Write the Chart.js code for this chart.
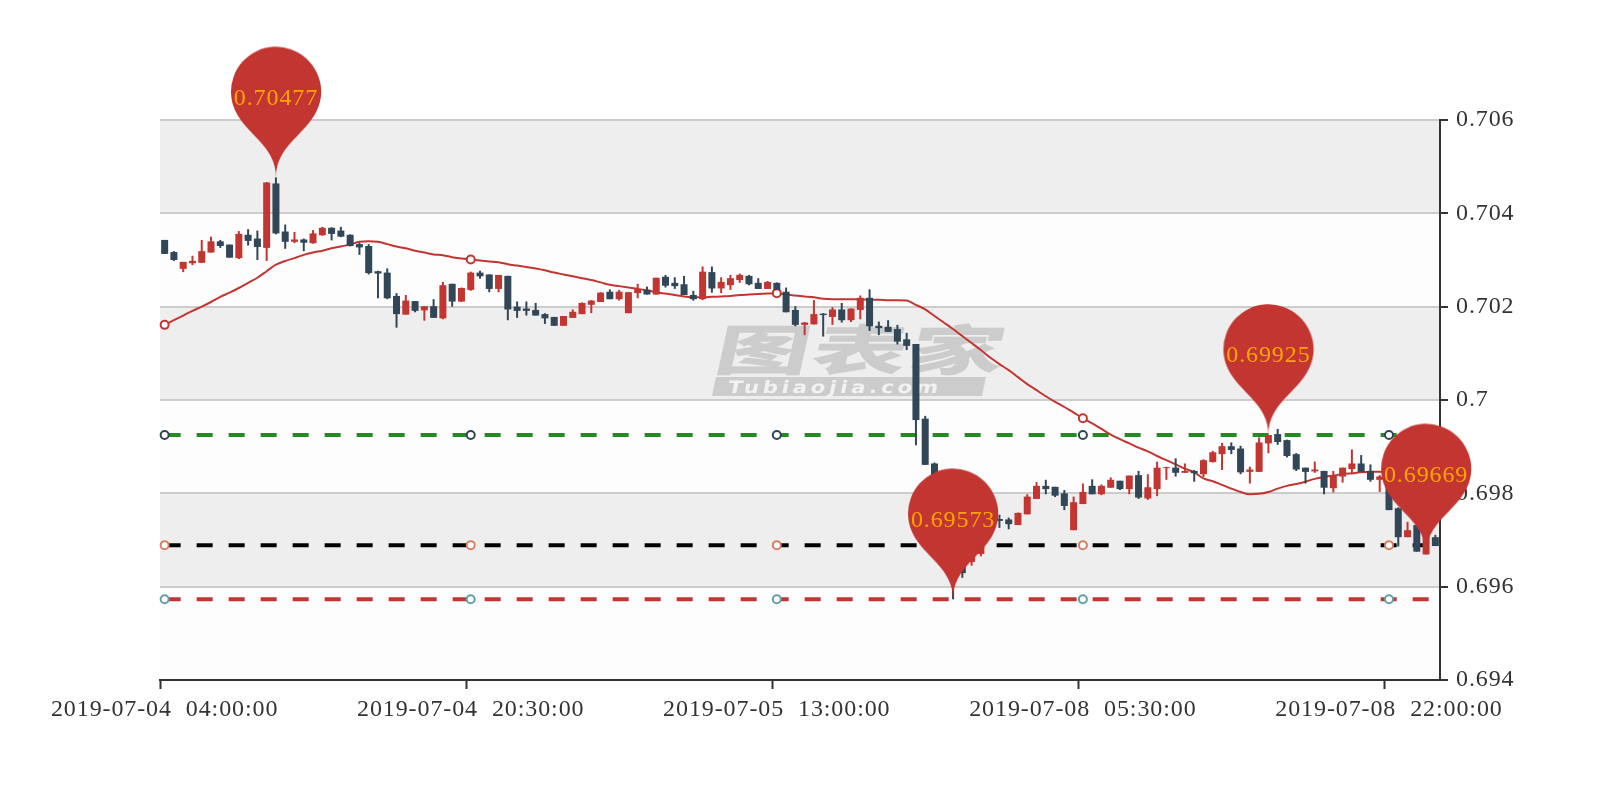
<!DOCTYPE html>
<html>
<head>
<meta charset="utf-8">
<style>html,body{margin:0;padding:0;background:#fff}canvas{display:block}</style>
<script src="https://cdn.jsdelivr.net/npm/chart.js@4/dist/chart.umd.js"></script>
</head>
<body>
<canvas id="c" width="1600" height="800"></canvas>
<script>
const openP=[.70343,.70317,.70281,.70293,.70294,.70316,.70340,.70333,.70304,.70354,.70346,.70326,.70464,.70361,.70339,.70344,.70336,.70353,.70369,.70363,
.70354,.70334,.70330,.70276,.70273,.70223,.70183,.70212,.70192,.70201,.70175,.70249,.70211,.70236,.70273,.70269,.70238,.70266,.70200,.70196,
.70193,.70184,.70178,.70159,.70176,.70184,.70204,.70210,.70232,.70216,.70186,.70229,.70236,.70226,.70264,.70251,.70248,.70225,.70216,.70274,
.70239,.70246,.70257,.70266,.70251,.70238,.70251,.70232,.70193,.70161,.70162,.70185,.70178,.70194,.70171,.70193,.70219,.70159,.70157,.70152,
.70130,.70120,.69960,.69864,.69807,.69721,.69668,.69653,.69670,.69725,.69745,.69744,.69732,.69755,.69788,.69816,.69814,.69800,.69721,.69777,
.69816,.69798,.69812,.69827,.69809,.69839,.69789,.69809,.69854,.69855,.69844,.69848,.69841,.69867,.69884,.69901,.69896,.69846,.69846,.69907,
.69927,.69914,.69884,.69855,.69847,.69848,.69811,.69836,.69852,.69864,.69848,.69829,.69833,.69768,.69706,.69732,.69669,.69706];
const closeP=[.70313,.70300,.70296,.70298,.70319,.70340,.70330,.70305,.70356,.70341,.70328,.70466,.70357,.70339,.70344,.70337,.70357,.70369,.70356,.70350,
.70330,.70327,.70272,.70271,.70218,.70184,.70213,.70191,.70201,.70176,.70246,.70211,.70240,.70273,.70265,.70238,.70268,.70194,.70191,.70191,
.70181,.70175,.70159,.70180,.70189,.70208,.70213,.70230,.70216,.70232,.70231,.70238,.70226,.70262,.70245,.70244,.70225,.70216,.70275,.70239,
.70253,.70261,.70268,.70248,.70238,.70253,.70236,.70188,.70161,.70166,.70184,.70182,.70194,.70171,.70196,.70219,.70158,.70154,.70146,.70125,
.70116,.69957,.69861,.69807,.69721,.69625,.69629,.69674,.69696,.69738,.69741,.69734,.69758,.69793,.69816,.69809,.69795,.69773,.69781,.69803,
.69798,.69816,.69829,.69809,.69838,.69791,.69813,.69855,.69856,.69844,.69848,.69843,.69871,.69888,.69901,.69893,.69845,.69851,.69909,.69925,
.69910,.69880,.69851,.69846,.69851,.69812,.69839,.69855,.69864,.69846,.69829,.69836,.69764,.69706,.69721,.69675,.69715,.69687];
const lowP=[.70313,.70298,.70274,.70289,.70294,.70316,.70326,.70305,.70302,.70331,.70300,.70298,.70355,.70324,.70336,.70319,.70335,.70352,.70342,.70349,
.70329,.70311,.70269,.70218,.70216,.70155,.70183,.70188,.70170,.70176,.70173,.70200,.70210,.70234,.70260,.70231,.70231,.70171,.70176,.70181,
.70181,.70163,.70159,.70159,.70176,.70184,.70186,.70210,.70216,.70213,.70186,.70218,.70226,.70226,.70241,.70238,.70225,.70213,.70214,.70230,
.70229,.70236,.70251,.70246,.70238,.70238,.70236,.70188,.70158,.70139,.70162,.70136,.70161,.70166,.70167,.70173,.70148,.70139,.70146,.70119,
.70107,.69903,.69861,.69796,.69712,.69573,.69619,.69645,.69665,.69722,.69726,.69723,.69732,.69755,.69788,.69798,.69792,.69764,.69721,.69777,
.69798,.69796,.69812,.69807,.69798,.69788,.69786,.69794,.69829,.69836,.69844,.69825,.69835,.69866,.69850,.69884,.69841,.69821,.69846,.69886,
.69904,.69877,.69848,.69821,.69844,.69798,.69802,.69823,.69841,.69846,.69825,.69803,.69764,.69686,.69706,.69675,.69669,.69687];
const highP=[.70343,.70319,.70296,.70309,.70343,.70350,.70343,.70333,.70362,.70366,.70363,.70467,.70477,.70376,.70360,.70346,.70364,.70371,.70370,.70371,
.70355,.70337,.70334,.70277,.70282,.70229,.70225,.70212,.70201,.70216,.70253,.70249,.70241,.70275,.70277,.70269,.70268,.70266,.70211,.70211,
.70208,.70186,.70178,.70180,.70194,.70209,.70214,.70231,.70237,.70236,.70231,.70249,.70243,.70262,.70268,.70263,.70266,.70234,.70286,.70286,
.70263,.70268,.70271,.70268,.70261,.70255,.70252,.70241,.70201,.70167,.70214,.70186,.70199,.70208,.70196,.70224,.70237,.70168,.70171,.70161,
.70144,.70120,.69966,.69866,.69810,.69725,.69675,.69680,.69700,.69745,.69754,.69748,.69759,.69798,.69824,.69829,.69814,.69807,.69793,.69821,
.69830,.69819,.69834,.69827,.69838,.69848,.69841,.69868,.69857,.69875,.69864,.69850,.69873,.69891,.69908,.69909,.69902,.69857,.69920,.69925,
.69938,.69915,.69886,.69855,.69868,.69848,.69848,.69855,.69894,.69882,.69862,.69839,.69836,.69770,.69739,.69735,.69725,.69711];
const maLine=[.70161,.70171,.70181,.70191,.70200,.70210,.70221,.70230,.70240,.70251,.70262,.70276,.70290,.70298,.70304,.70311,.70316,.70320,.70325,.70329,
.70333,.70339,.70340,.70339,.70334,.70329,.70325,.70320,.70316,.70312,.70310,.70306,.70303,.70301,.70299,.70297,.70295,.70291,.70288,.70285,
.70282,.70278,.70273,.70269,.70265,.70261,.70257,.70252,.70247,.70244,.70241,.70238,.70235,.70231,.70228,.70225,.70222,.70220,.70220,.70221,
.70222,.70223,.70225,.70226,.70227,.70228,.70229,.70226,.70224,.70222,.70220,.70217,.70216,.70216,.70216,.70216,.70215,.70215,.70214,.70214,
.70213,.70204,.70194,.70180,.70166,.70152,.70137,.70122,.70107,.70091,.70077,.70064,.70049,.70034,.70021,.70008,.69996,.69985,.69973,.69961,
.69950,.69938,.69926,.69916,.69907,.69898,.69890,.69880,.69871,.69862,.69853,.69845,.69832,.69826,.69818,.69810,.69803,.69798,.69799,.69803,
.69810,.69816,.69820,.69825,.69831,.69835,.69838,.69841,.69843,.69845,.69846,.69846,.69845,.69843,.69841,.69839,.69837,.69835];
const levelGreen=0.69925, levelBlack=0.69689, levelRed=0.69573;
const pinIndex=[12,85,119,136];
const pinValue=[0.70477,0.69573,0.69925,0.69669];
const yTicks=[0.694,0.696,0.698,0.7,0.702,0.704,0.706];
const tickEvery=33;
const UP='#c23531', DOWN='#314656';

// 30-minute bars, with the weekend gap after index 98
const categories=openP.map((_,i)=>{
  const t=new Date(Date.UTC(2019,6,4,4,0)+(i*30+(i>=99?2880:0))*60000).toISOString();
  return t.slice(0,10)+' '+t.slice(11,19);
});
const candleColor=ctx=>closeP[ctx.dataIndex]>openP[ctx.dataIndex]?UP:DOWN;
const bodies=openP.map((o,i)=>[o,closeP[i]]);
const wicks=lowP.map((l,i)=>[l,highP[i]]);
const pinData=categories.map((_,i)=>{const k=pinIndex.indexOf(i);return k<0?null:pinValue[k];});
const flat=v=>categories.map(()=>v);
const FONT='"Liberation Serif", serif';

// the pin shape, tip in the middle of the sprite so that it lands on the value
const PIN=150;
const pinSprite=document.createElement('canvas');
pinSprite.width=100; pinSprite.height=PIN*2;
(function(){
  const g=pinSprite.getContext('2d');
  const x=50,y=PIN,w=PIN/5*3,h=PIN,r=w/2;
  const dy=r*r/(h-r),cy=y-h+r+dy,a=Math.asin(dy/r),dx=Math.cos(a)*r;
  const tx=Math.sin(a),ty=Math.cos(a),c1=r*.6,c2=r*.7;
  g.fillStyle=UP;
  g.beginPath();
  g.moveTo(x-dx,cy+dy);
  g.arc(x,cy,r,Math.PI-a,Math.PI*2+a);
  g.bezierCurveTo(x+dx-tx*c1,cy+dy+ty*c1,x,y-c2,x,y);
  g.bezierCurveTo(x,y-c2,x-dx+tx*c1,cy+dy+ty*c1,x-dx,cy+dy);
  g.closePath();
  g.fill();
})();

const spacing={
  id:'spacing',
  set(chart){chart.ctx.letterSpacing='0.9px';chart.ctx.wordSpacing='7px';},
  beforeLayout(chart){this.set(chart);},
  beforeDraw(chart){this.set(chart);}
};
const bands={
  id:'bands',
  beforeDraw(chart){
    const {ctx,chartArea:a,scales:{y}}=chart;
    ctx.save();
    ctx.fillStyle='#fff';ctx.fillRect(0,0,chart.width,chart.height);
    for(let i=0;i<yTicks.length-1;i++){
      const top=y.getPixelForValue(yTicks[yTicks.length-1-i]),bot=y.getPixelForValue(yTicks[yTicks.length-2-i]);
      ctx.fillStyle=i%2?'#fdfdfd':'#eeeeee';
      ctx.fillRect(a.left,top,a.right-a.left,bot-top);
    }
    ctx.restore();
  }
};
const watermark={
  id:'watermark',
  beforeDatasetsDraw(chart){
    const ctx=chart.ctx;
    ctx.save();
    ctx.fillStyle='#cccccc';
    ctx.beginPath();
    ctx.moveTo(716,377);ctx.lineTo(986,377);ctx.lineTo(982,396);ctx.lineTo(712,396);ctx.closePath();ctx.fill();
    ctx.wordSpacing='0px';
    ctx.textAlign='left';ctx.textBaseline='alphabetic';
    ctx.save();
    ctx.translate(712,370);
    ctx.transform(1.75,0,-0.22,1,0,0);
    ctx.font='900 54px "Noto Sans CJK SC"';
    ctx.letterSpacing='1.5px';
    ctx.fillStyle='#cccccc';
    ctx.fillText('图表家',0,0);
    ctx.restore();
    ctx.save();
    ctx.translate(727,393);
    ctx.transform(1.25,0,-0.2,1,0,0);
    ctx.font='900 17px "DejaVu Sans"';
    ctx.letterSpacing='3px';
    ctx.fillStyle='#f2f2f2';
    ctx.fillText('Tubiaojia.com',0,0);
    ctx.restore();
    ctx.restore();
  }
};
const pinLabels={
  id:'pinLabels',
  afterDatasetsDraw(chart){
    const ctx=chart.ctx;
    const pts=chart.getDatasetMeta(chart.data.datasets.length-1).data;
    ctx.save();
    ctx.font='24px '+FONT;
    ctx.fillStyle='#ffa500';
    ctx.textAlign='center';ctx.textBaseline='middle';
    pinIndex.forEach((idx,k)=>{
      ctx.fillText(pinValue[k].toFixed(5),pts[idx].x,pts[idx].y-79);
    });
    ctx.restore();
  }
};
const mark=(v,col,ptCol)=>({
  type:'line',data:flat(v),order:6,borderColor:col,borderWidth:4,borderDash:[16,16],tension:0,
  pointBackgroundColor:'#fff',pointBorderColor:ptCol,pointBorderWidth:2,
  pointRadius:c=>c.dataIndex%tickEvery===0?4:0,pointHoverRadius:0
});
new Chart(document.getElementById('c'),{
  type:'bar',
  data:{labels:categories,datasets:[
    {type:'line',data:maLine,order:5,borderColor:UP,borderWidth:2,cubicInterpolationMode:'monotone',
     pointBackgroundColor:'#fff',pointBorderColor:UP,pointBorderWidth:2,
     pointRadius:c=>c.dataIndex%tickEvery===0?4:0,pointHoverRadius:0},
    mark(levelGreen,'#228b22','#2f4554'),
    mark(levelBlack,'#000000','#d48265'),
    mark(levelRed,UP,'#61a0a8'),
    {data:wicks,order:3,grouped:false,barThickness:2,backgroundColor:candleColor,borderWidth:0,inflateAmount:0},
    {data:bodies,order:2,grouped:false,barThickness:7,backgroundColor:candleColor,borderWidth:0,inflateAmount:0},
    {type:'line',data:pinData,order:1,showLine:false,clip:false,pointStyle:pinSprite,pointRadius:10,pointHoverRadius:10,spanGaps:false}
  ]},
  options:{
    responsive:false,animation:false,devicePixelRatio:1,events:[],
    layout:{padding:{left:160,top:120,right:0,bottom:0}},
    plugins:{legend:{display:false},tooltip:{enabled:false},title:{display:false}},
    scales:{
      x:{
        offset:true,
        afterFit(s){s.height=120;},
        border:{color:'#333',width:2},
        grid:{offset:true,drawOnChartArea:false,drawTicks:true,tickLength:9,tickWidth:2,
              tickColor:c=>(c.index%tickEvery===0&&c.index<categories.length)?'#333':'rgba(0,0,0,0)'},
        ticks:{autoSkip:false,maxRotation:0,minRotation:0,padding:6,color:'#333',font:{family:FONT,size:24},
               callback(v,i){return i%tickEvery===0?categories[i]:'';}}
      },
      y:{
        position:'right',min:yTicks[0],max:yTicks[yTicks.length-1],
        afterFit(s){s.width=160;},
        afterBuildTicks(s){s.ticks=yTicks.map(v=>({value:v}));},
        border:{color:'#333',width:2},
        grid:{color:'#cccccc',lineWidth:2,tickColor:'#333',tickWidth:2,tickLength:8},
        ticks:{padding:8,color:'#333',font:{family:FONT,size:24},callback:v=>String(v)}
      }
    }
  },
  plugins:[spacing,bands,watermark,pinLabels]
});
</script>
</body>
</html>
